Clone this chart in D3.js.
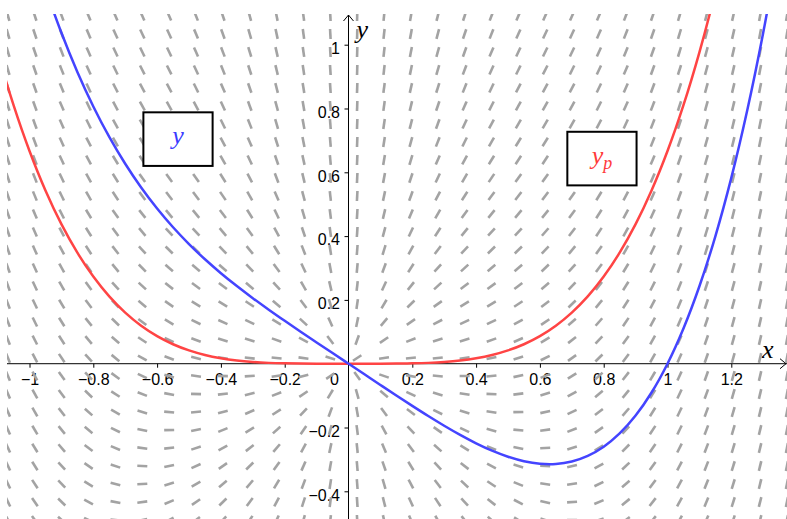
<!DOCTYPE html>
<html><head><meta charset="utf-8">
<script src="https://cdn.jsdelivr.net/npm/d3@7"></script>
<style>body{margin:0;background:#fff;overflow:hidden}</style>
</head><body><svg id="c" width="787" height="519"></svg>
<script>
// ---- data ----
const xTicks = [-1,-0.8,-0.6,-0.4,-0.2,0.2,0.4,0.6,0.8,1,1.2];
const xTickLabels = ["−1","−0.8","−0.6","−0.4","−0.2","0.2","0.4","0.6","0.8","1","1.2"];
const yTicks = [-0.4,-0.2,0.2,0.4,0.6,0.8,1];
const yTickLabels = ["−0.4","−0.2","0.2","0.4","0.6","0.8","1"];
const curveX = [-1.15,-1.10,-1.05,-1.00,-0.95,-0.90,-0.85,-0.80,-0.75,-0.70,-0.65,-0.60,-0.55,-0.50,-0.45,-0.40,-0.35,-0.30,-0.25,-0.20,-0.15,-0.10,-0.05,0,
  0.05,0.10,0.15,0.20,0.25,0.30,0.35,0.40,0.45,0.50,0.55,0.60,0.65,0.70,0.75,0.80,0.85,0.90,0.95,1.00,1.05,1.10,1.15,1.20,1.25,1.30,1.35];
const ypValues = [1.1660,0.9761,0.8103,0.6667,0.5430,0.4374,0.3480,0.2731,0.2109,0.1601,0.1190,0.0864,0.0610,0.0417,0.0273,0.0171,0.0100,0.0054,0.0026,0.0011,0.0003,0.0001,0.0000,0,
  0.0000,0.0001,0.0003,0.0011,0.0026,0.0054,0.0100,0.0171,0.0273,0.0417,0.0610,0.0864,0.1190,0.1601,0.2109,0.2731,0.3480,0.4374,0.5430,0.6667,0.8103,0.9761,1.1660,1.3824,1.6276,1.9041,2.2143];
const yValues = [1.9327,1.7094,1.5103,1.3333,1.1763,1.0374,0.9147,0.8064,0.7109,0.6267,0.5523,0.4864,0.4277,0.3750,0.3273,0.2837,0.2433,0.2054,0.1693,0.1344,0.1003,0.0667,0.0333,0,
  -0.0333,-0.0666,-0.0997,-0.1323,-0.1641,-0.1946,-0.2233,-0.2496,-0.2727,-0.2917,-0.3057,-0.3136,-0.3143,-0.3066,-0.2891,-0.2603,-0.2187,-0.1626,-0.0903,0,0.1103,0.2427,0.3993,0.5824,0.7943,1.0374,1.3143];
// slope field y' = y/x + 2x^3 on a 30 x 29 grid
const fieldXStart = -1.0674, fieldXStep = 0.0842, fieldCols = 30;
const fieldYStart = 1.0900, fieldYStep = -0.05643, fieldRows = 29;
const slope = (px, py) => py / px + 2 * px * px * px;
const boxes = [
  {x0:-0.643, x1:-0.426, y0:0.788, y1:0.620, label:"y", sub:"", color:"#3b3bff"},
  {x0:0.686, x1:0.903, y0:0.727, y1:0.559, label:"y", sub:"p", color:"#ff3b3b"}
];

// ---- scales ----
const W = 787, H = 519;
const x = d3.scaleLinear().domain([-1.0925, 1.3746]).range([0, W]);
const y = d3.scaleLinear().domain([-0.4868, 1.1401]).range([H, 0]);
const svg = d3.select("#c");
const viewLeft = 7, viewTop = 14;

svg.append("defs").append("clipPath").attr("id","view")
  .append("rect").attr("x",viewLeft).attr("y",viewTop).attr("width",W-viewLeft).attr("height",H-viewTop);

const font = "'Liberation Sans', Arial, sans-serif";
const serif = "'Liberation Serif','DejaVu Serif',serif";

// ---- axes ----
const gAx = svg.append("g");
const xa = gAx.append("g").attr("transform",`translate(0,${y(0)})`)
  .call(d3.axisBottom(x).tickValues(xTicks).tickSize(4).tickPadding(6)
        .tickFormat((d,i)=>xTickLabels[i]));
const ya = gAx.append("g").attr("transform",`translate(${x(0)},0)`)
  .call(d3.axisLeft(y).tickValues(yTicks).tickSize(4).tickPadding(4.5)
        .tickFormat((d,i)=>yTickLabels[i]));
[xa, ya].forEach(g=>{
  g.select(".domain").remove();
  g.selectAll("line").attr("stroke","#000").attr("stroke-width",1);
  g.selectAll("text").attr("fill","#000").style("font-family",font).style("font-size","16px");
});
ya.selectAll("text").attr("dy","0.55em");
gAx.append("text").attr("x",x(0)-9.5).attr("y",y(0)+21.5).attr("text-anchor","end")
  .style("font-family",font).style("font-size","16px").text("0");

gAx.append("line").attr("x1",viewLeft).attr("x2",W).attr("y1",y(0)).attr("y2",y(0))
  .attr("stroke","#000").attr("stroke-width",1);
gAx.append("line").attr("x1",x(0)).attr("x2",x(0)).attr("y1",H).attr("y2",viewTop+1)
  .attr("stroke","#000").attr("stroke-width",1);
gAx.append("path").attr("d",`M${x(0)-5},${viewTop+7}L${x(0)},${viewTop+1}L${x(0)+5},${viewTop+7}`)
  .attr("fill","none").attr("stroke","#000").attr("stroke-width",1);
gAx.append("path").attr("d",`M${W-7},${y(0)-5}L${W-1},${y(0)}L${W-7},${y(0)+5}`)
  .attr("fill","none").attr("stroke","#000").attr("stroke-width",1);
gAx.append("text").attr("x",762).attr("y",y(0)-6).style("font-family",serif)
  .style("font-style","italic").style("font-size","26px").text("x");
gAx.append("text").attr("x",x(0)+8).attr("y",38).style("font-family",serif)
  .style("font-style","italic").style("font-size","26px").text("y");

// ---- slope field ----
const field = [];
for (let i=0;i<fieldCols;i++) for (let j=0;j<fieldRows;j++) {
  const fx = fieldXStart + i*fieldXStep, fy = fieldYStart + j*fieldYStep;
  field.push({x:fx, y:fy, m:slope(fx,fy)});
}
const half = 5;
svg.append("g").attr("clip-path","url(#view)").selectAll("line").data(field).join("line")
  .attr("x1",d=>{const t=Math.atan(d.m);return x(d.x)-half*Math.cos(t);})
  .attr("x2",d=>{const t=Math.atan(d.m);return x(d.x)+half*Math.cos(t);})
  .attr("y1",d=>{const t=Math.atan(d.m);return y(d.y)+half*Math.sin(t);})
  .attr("y2",d=>{const t=Math.atan(d.m);return y(d.y)-half*Math.sin(t);})
  .attr("stroke","#a3a3a3").attr("stroke-width",2.6);

// ---- curves ----
const gc = svg.append("g").attr("clip-path","url(#view)");
const line = vals => d3.line().x((d,i)=>x(curveX[i])).y(d=>y(d)).curve(d3.curveCatmullRom)(vals);
gc.append("path").attr("d",line(ypValues)).attr("fill","none").attr("stroke","#ff4444").attr("stroke-width",2.5);
gc.append("path").attr("d",line(yValues)).attr("fill","none").attr("stroke","#4444ff").attr("stroke-width",2.5);

// ---- label boxes ----
boxes.forEach(b=>{
  const g = svg.append("g");
  g.append("rect").attr("x",x(b.x0)).attr("y",y(b.y0)).attr("width",x(b.x1)-x(b.x0)).attr("height",y(b.y1)-y(b.y0))
    .attr("fill","#fff").attr("stroke","#000").attr("stroke-width",2);
  const t = g.append("text").attr("x",(x(b.x0)+x(b.x1))/2).attr("y",(y(b.y0)+y(b.y1))/2+5)
    .attr("text-anchor","middle").attr("fill",b.color)
    .style("font-family",serif).style("font-style","italic").style("font-size","26px");
  t.append("tspan").text(b.label);
  if (b.sub) t.append("tspan").attr("dy",5).style("font-size","18px").text(b.sub);
});
</script></body></html>
